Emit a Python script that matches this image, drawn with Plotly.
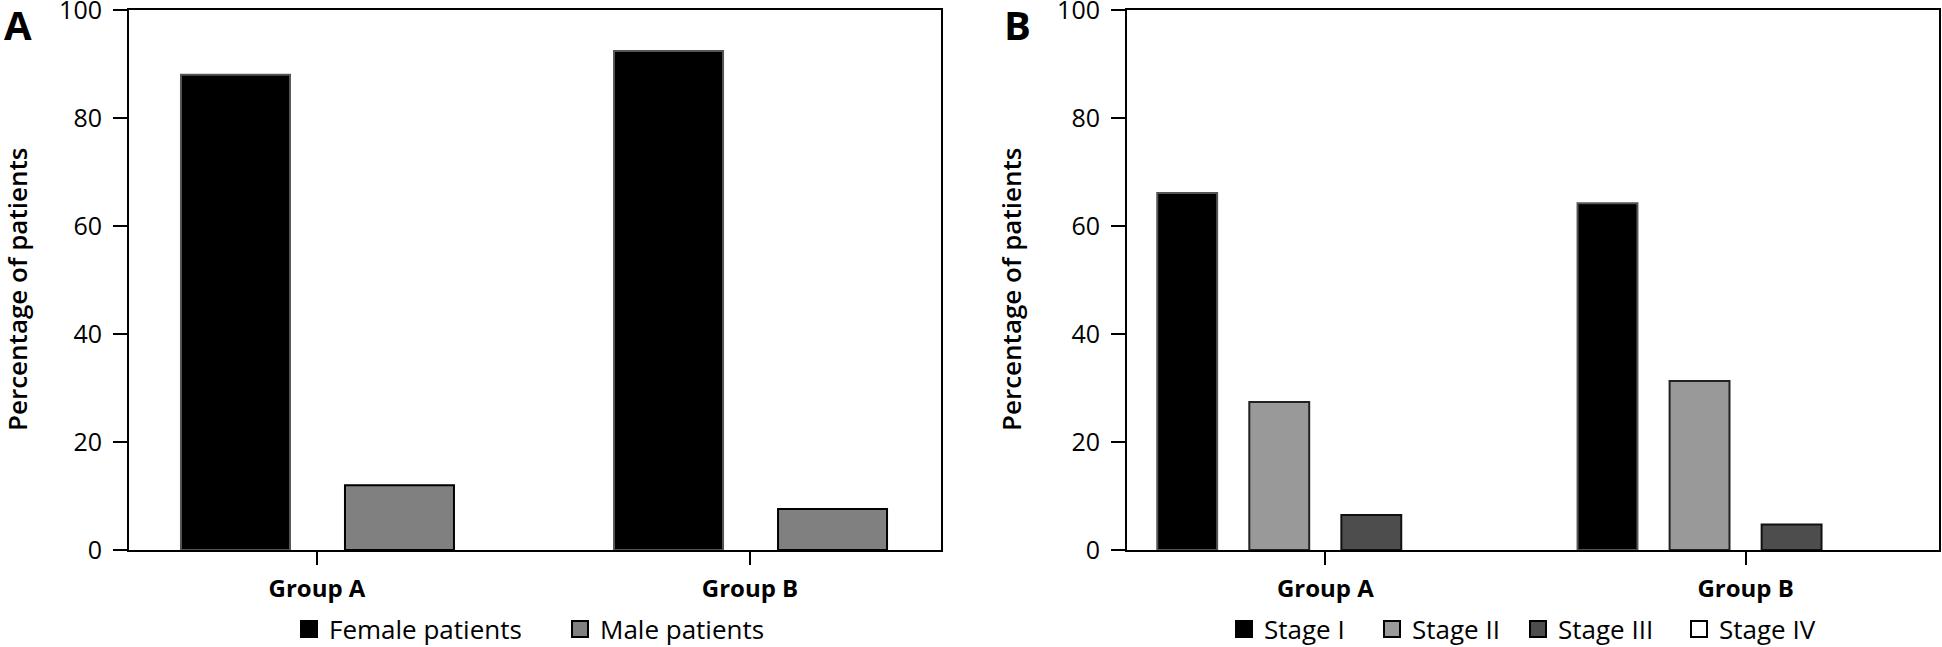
import plotly.graph_objects as go

groups = ["Group A", "Group B"]

# Panel A
sex_names = ["Female patients", "Male patients"]
female_pct = [88.0, 92.4]
male_pct = [12.0, 7.6]

# Panel B
stage_names = ["Stage I", "Stage II", "Stage III", "Stage IV"]
stage1_pct = [66.1, 64.2]
stage2_pct = [27.4, 31.3]
stage3_pct = [6.5, 4.7]
stage4_pct = [0.0, 0.0]

y_ticks = [0, 20, 40, 60, 80, 100]

FONT = "Open Sans"
fig = go.Figure()

# Panel A bars
a_series = [female_pct, male_pct]
a_fill = ["#000000", "#808080"]
a_line = ["#555555", "#000000"]
a_off = [-0.314, 0.0647]
a_w = 0.2517
a_legw = [226, 160]
for name, vals, fc, lc, off, lw in zip(sex_names, a_series, a_fill, a_line, a_off, a_legw):
    fig.add_trace(go.Bar(x=groups, y=vals, name=name, xaxis="x", yaxis="y",
                         offset=off, width=a_w, showlegend=False,
                         marker=dict(color=fc, line=dict(color=lc, width=2))))
    fig.add_trace(go.Scatter(x=[None], y=[None], name=name, mode="markers", xaxis="x", yaxis="y",
                             legend="legend", legendwidth=lw,
                             marker=dict(symbol="square", size=16, color=fc,
                                         line=dict(color="#000000", width=2))))

# Panel B bars
b_series = [stage1_pct, stage2_pct, stage3_pct, stage4_pct]
b_fill = ["#000000", "#999999", "#4d4d4d", "#ffffff"]
b_line = ["#555555", "#222222", "#111111", "#000000"]
b_lw = [2, 2, 2, 0]
b_off = [-0.400, -0.181, 0.038, 0.257]
b_w = 0.1425
b_legw = [103, 101, 116, 110]
for name, vals, fc, lc, blw, off, lw in zip(stage_names, b_series, b_fill, b_line, b_lw, b_off, b_legw):
    fig.add_trace(go.Bar(x=groups, y=vals, name=name, xaxis="x2", yaxis="y2",
                         offset=off, width=b_w, showlegend=False,
                         marker=dict(color=fc, line=dict(color=lc, width=blw))))
    fig.add_trace(go.Scatter(x=[None], y=[None], name=name, mode="markers", xaxis="x2", yaxis="y2",
                             legend="legend2", legendwidth=lw,
                             marker=dict(symbol="square", size=16, color=fc,
                                         line=dict(color="#000000", width=2))))

W, H = 1942, 647
ydom = [1 - 550 / H, 1 - 10 / H]

xcommon = dict(type="category", showline=True, linecolor="#000000", linewidth=2, mirror=True,
               ticks="outside", ticklen=13, tickwidth=2, tickcolor="#000000",
               showgrid=False, zeroline=False, ticklabelstandoff=3, automargin=False,
               tickfont=dict(family=FONT, size=24, color="#000000", weight="bold"))
ycommon = dict(range=[0, 100], tickvals=y_ticks, showline=True, linecolor="#000000", linewidth=2,
               mirror=True, ticks="outside", ticklen=14, tickwidth=2, tickcolor="#000000",
               showgrid=False, zeroline=False, ticklabelstandoff=6, ticklabeloverflow="allow",
               automargin=False, tickfont=dict(family=FONT, size=25, color="#000000"))

fig.update_layout(
    width=W, height=H, autosize=False,
    margin=dict(l=0, r=0, t=0, b=0, pad=0, autoexpand=False),
    paper_bgcolor="#ffffff", plot_bgcolor="#ffffff",
    barmode="overlay",
    xaxis=dict(domain=[129 / W, 941 / W], range=[-0.434, 1.441], anchor="y", **xcommon),
    yaxis=dict(domain=ydom, anchor="x", **ycommon),
    xaxis2=dict(domain=[1127 / W, 1939 / W], range=[-0.472, 1.460], anchor="y2", **xcommon),
    yaxis2=dict(domain=ydom, anchor="x2", **ycommon),
    legend=dict(orientation="h", x=289 / W, xanchor="left", y=1 - 629 / H, yanchor="middle",
                font=dict(family=FONT, size=26, color="#000000"),
                bgcolor="rgba(0,0,0,0)", borderwidth=0, itemclick=False),
    legend2=dict(orientation="h", x=1224 / W, xanchor="left", y=1 - 629 / H, yanchor="middle",
                 font=dict(family=FONT, size=26, color="#000000"),
                 bgcolor="rgba(0,0,0,0)", borderwidth=0, itemclick=False),
    annotations=[
        dict(text="<b>A</b>", x=18 / W, y=1, xref="paper", yref="paper", xanchor="center",
             yanchor="top", yshift=5, showarrow=False,
             font=dict(family=FONT, size=40, color="#000000")),
        dict(text="<b>B</b>", x=1017 / W, y=1, xref="paper", yref="paper", xanchor="center",
             yanchor="top", yshift=5, showarrow=False,
             font=dict(family=FONT, size=40, color="#000000")),
        dict(text="Percentage of patients", x=17 / W, y=1 - 290 / H, xref="paper", yref="paper",
             xanchor="center", yanchor="middle", textangle=-90, showarrow=False,
             font=dict(family=FONT, size=26, color="#000000", weight=600)),
        dict(text="Percentage of patients", x=1011 / W, y=1 - 290 / H, xref="paper", yref="paper",
             xanchor="center", yanchor="middle", textangle=-90, showarrow=False,
             font=dict(family=FONT, size=26, color="#000000", weight=600)),
    ],
)

fig.write_html("out.html", config={"displayModeBar": False},
               post_script="document.body.style.margin='0';document.body.style.overflow='hidden';")
